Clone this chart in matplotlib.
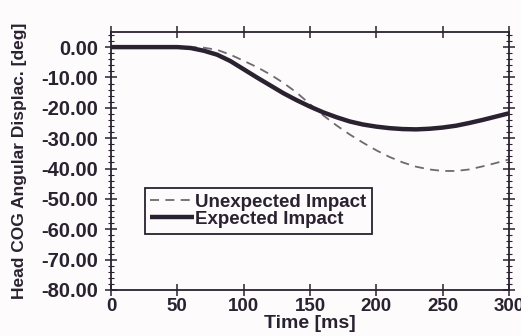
import matplotlib
matplotlib.use("Agg")
import matplotlib.pyplot as plt
from matplotlib.ticker import MultipleLocator, FormatStrFormatter

plt.rcParams['font.family'] = ['Liberation Sans', 'DejaVu Sans']
plt.rcParams['axes.unicode_minus'] = False

# Head centre-of-gravity angular displacement over time
time_ms = [0, 10, 20, 30, 40, 50, 60, 70, 80, 90, 100, 110, 120, 130, 140, 150,
           160, 170, 180, 190, 200, 210, 220, 230, 240, 250, 260, 270, 280, 290, 300]
expected = [0.0, 0.0, 0.0, 0.0, 0.0, 0.0, -0.3, -1.2, -2.5, -4.6, -7.3, -10.0,
            -12.6, -15.2, -17.5, -19.6, -21.5, -23.1, -24.5, -25.5, -26.2, -26.7,
            -27.0, -27.1, -26.9, -26.5, -25.9, -25.0, -24.0, -22.9, -21.8]
unexpected = [0.0, 0.0, 0.0, 0.0, 0.0, 0.0, 0.0, -0.2, -0.9, -2.5, -4.5, -6.6,
              -9.0, -11.8, -15.0, -18.8, -22.5, -25.8, -28.8, -31.5, -34.0, -36.2,
              -38.0, -39.4, -40.3, -40.8, -40.8, -40.3, -39.3, -38.2, -37.0]
series_labels = ["Unexpected Impact", "Expected Impact"]

ink = "#2a2230"
bg = "#fdfbfc"
fig = plt.figure(figsize=(5.21, 3.36), dpi=100, facecolor=bg)
ax = fig.add_axes([0.213, 0.137, 0.764, 0.768])
ax.set_facecolor(bg)

ax.plot(time_ms, unexpected, color="#6e6a70", lw=1.3, dashes=(5, 3.5),
        label=series_labels[0])
ax.plot(time_ms, expected, color=ink, lw=3.2, solid_capstyle="butt",
        label=series_labels[1])

ax.set_xlim(0, 300)
ax.set_ylim(-80, 5)
ax.xaxis.set_major_locator(MultipleLocator(50))
ax.yaxis.set_major_locator(MultipleLocator(10))
ax.yaxis.set_minor_locator(MultipleLocator(2))
ax.yaxis.set_major_formatter(FormatStrFormatter('%.2f'))

for s in ax.spines.values():
    s.set_color(ink)
    s.set_linewidth(1.3)

ax.tick_params(axis='both', which='major', direction='inout', length=9, width=1.1,
               color=ink, top=True, right=True, labelcolor=ink)
ax.tick_params(axis='y', which='major', labelsize=14.5, pad=5)
ax.tick_params(axis='x', which='major', labelsize=13.5, pad=1)
ax.tick_params(axis='y', which='minor', direction='inout', length=5, width=0.8,
               color=ink, right=True)
for lbl in ax.get_xticklabels() + ax.get_yticklabels():
    lbl.set_fontweight('bold')

ax.set_xlabel("Time [ms]", fontsize=14, fontweight='bold', color=ink, labelpad=0)
ax.set_ylabel("Head COG Angular Displac. [deg]", fontsize=12.5, fontweight='bold',
              color=ink, labelpad=10)

leg = ax.legend(loc='upper left', bbox_to_anchor=(0.085, 0.395),
                frameon=True, fancybox=False, shadow=False, handlelength=2.3,
                handletextpad=0.1, borderpad=0.3, labelspacing=0.0,
                borderaxespad=0, prop={'weight': 'bold', 'size': 13.5})
leg.get_frame().set_edgecolor(ink)
leg.get_frame().set_linewidth(1.3)
leg.get_frame().set_facecolor(bg)
leg.get_frame().set_alpha(1)
for t in leg.get_texts():
    t.set_color(ink)

fig.savefig("out.png", dpi=100, facecolor=fig.get_facecolor())
